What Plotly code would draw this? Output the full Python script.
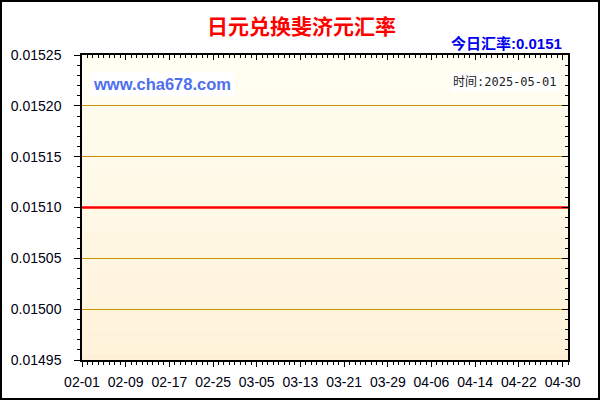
import plotly.graph_objects as go
import pandas as pd

# ---- data ----
dates = pd.date_range("2025-02-01", "2025-05-01", freq="D").strftime("%Y-%m-%d").tolist()
rates = [0.0151] * len(dates)
y_ticks = [0.01495, 0.01500, 0.01505, 0.01510, 0.01515, 0.01520, 0.01525]
title_text = "日元兑换斐济元汇率"
today_text = "今日汇率:0.0151"
site_text = "www.cha678.com"
time_text = "时间:2025-05-01"

W, H = 600, 400
L, R, T, B = 82, 32, 55, 40
pw, ph = W - L - R, H - T - B

fig = go.Figure()
fig.add_trace(go.Scatter(x=dates, y=rates, mode="lines",
                         line=dict(color="#FF0000", width=2.6),
                         hoverinfo="skip", showlegend=False, cliponaxis=False))
# empty trace to activate mirror axes
fig.add_trace(go.Scatter(x=[], y=[], xaxis="x2", yaxis="y2", showlegend=False))

# vertical gradient background bands
n = 40
top = (255, 255, 242)
bot = (255, 241, 216)
shapes = []
for i in range(n):
    t = (i + 0.5) / n
    c = tuple(round(top[k] + (bot[k] - top[k]) * t) for k in range(3))
    shapes.append(dict(type="rect", xref="x domain", yref="y domain",
                       x0=0, x1=1, y0=1 - (i + 1) / n, y1=1 - i / n,
                       fillcolor="rgb(%d,%d,%d)" % c, line=dict(width=0), layer="below"))
# outer border
shapes.append(dict(type="rect", xref="paper", yref="paper",
                   x0=-(L - 1) / pw, x1=(W - L - 1) / pw,
                   y0=-(B - 1) / ph, y1=(H - B - 1) / ph,
                   line=dict(color="black", width=2), fillcolor="rgba(0,0,0,0)"))

tickfont = dict(family="Liberation Sans, Arial", size=14, color="#000010")

fig.update_layout(
    width=W, height=H,
    margin=dict(l=L, r=R, t=T, b=B, autoexpand=False),
    paper_bgcolor="white", plot_bgcolor="rgba(0,0,0,0)",
    shapes=shapes,
    xaxis=dict(type="date", range=["2025-02-01", "2025-05-01"],
               tick0="2025-02-01", dtick=8 * 86400000, tickformat="%m-%d",
               showgrid=False, zeroline=False, automargin=False,
               showline=True, linecolor="black", linewidth=1.5,
               ticks="outside", ticklen=5, tickcolor="black", tickwidth=1,
               minor=dict(dtick=86400000, ticks="outside", ticklen=3, tickcolor="black", tickwidth=1),
               tickfont=tickfont, ticklabelstandoff=3),
    yaxis=dict(range=[0.01495, 0.01525], tickvals=y_ticks, tickformat=".5f",
               showgrid=True, gridcolor="#C89200", gridwidth=1, zeroline=False, automargin=False,
               showline=True, linecolor="black", linewidth=1.5,
               ticks="outside", ticklen=6, tickcolor="black", tickwidth=1,
               minor=dict(dtick=0.00001, tick0=0.01495, ticks="outside", ticklen=3,
                          tickcolor="black", tickwidth=1, showgrid=False),
               tickfont=tickfont, ticklabelstandoff=10),
    xaxis2=dict(type="date", range=["2025-02-01", "2025-05-01"], overlaying="x", side="top",
                tick0="2025-02-01", dtick=8 * 86400000, showticklabels=False, automargin=False,
                showgrid=False, zeroline=False, showline=True, linecolor="black", linewidth=1.5,
                ticks="inside", ticklen=5, tickcolor="black",
                minor=dict(dtick=86400000, ticks="inside", ticklen=3, tickcolor="black")),
    yaxis2=dict(range=[0.01495, 0.01525], overlaying="y", side="right",
                tickvals=y_ticks, showticklabels=False, automargin=False,
                showgrid=False, zeroline=False, showline=True, linecolor="black", linewidth=1.5,
                ticks="inside", ticklen=6, tickcolor="black",
                minor=dict(dtick=0.00001, tick0=0.01495, ticks="inside", ticklen=3, tickcolor="black")),
    annotations=[
        dict(text="<b>%s</b>" % title_text, xref="paper", yref="paper",
             x=(301 - L) / pw, y=(H - B - 25) / ph, xanchor="center", yanchor="middle",
             showarrow=False, font=dict(family="Noto Sans CJK SC", size=21, color="#FF0000")),
        dict(text="<b>%s</b>" % today_text, xref="paper", yref="paper",
             x=(564 - L) / pw, y=(H - B - 43) / ph, xanchor="right", yanchor="middle",
             showarrow=False, font=dict(family="Liberation Sans, Noto Sans CJK SC", size=15, color="#0000EE")),
        dict(text="<b>%s</b>" % site_text, xref="paper", yref="paper",
             x=(89 - L) / pw, y=(H - B - 84) / ph, xanchor="left", yanchor="middle",
             showarrow=False, bgcolor="white", borderpad=3,
             font=dict(family="Liberation Sans, Arial", size=16.5, color="#4F6FEF")),
        dict(text=time_text, xref="paper", yref="paper",
             x=(559 - L) / pw, y=(H - B - 82) / ph, xanchor="right", yanchor="middle",
             showarrow=False, bgcolor="white", borderpad=2,
             font=dict(family="DejaVu Sans Mono, Noto Sans CJK SC", size=12, color="#222222")),
    ],
)

fig.write_html("out.html", config={"displayModeBar": False},
               post_script="document.body.style.margin='0';document.body.style.padding='0';"
                           "document.body.style.overflow='hidden';")
